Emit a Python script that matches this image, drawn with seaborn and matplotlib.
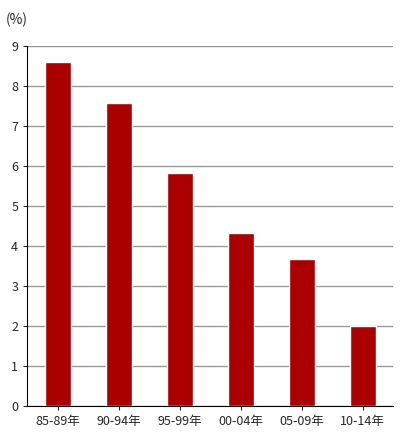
import matplotlib
matplotlib.use('Agg')
import matplotlib.pyplot as plt
import seaborn as sns
import pandas as pd

periods = ['85-89年', '90-94年', '95-99年', '00-04年', '05-09年', '10-14年']
rates = [8.6, 7.57, 5.82, 4.33, 3.68, 2.0]

sns.set_style('white')
plt.rcParams['font.family'] = ['Noto Sans CJK JP', 'DejaVu Sans']

df = pd.DataFrame({'period': periods, 'rate': rates})

fig = plt.figure(figsize=(4, 4.38), dpi=100)
ax = fig.add_axes([0.068, 0.073, 0.915, 0.822])
sns.barplot(data=df, x='period', y='rate', color='#AA0000', width=0.42,
            saturation=1, ax=ax, zorder=3)
ax.set_ylim(0, 9)
ax.set_yticks(range(10))
ax.yaxis.grid(True, color='#999999', linewidth=1, zorder=0)
ax.set_xlabel('')
ax.set_ylabel('')
for side in ['top', 'right']:
    ax.spines[side].set_visible(False)
for side in ['left', 'bottom']:
    ax.spines[side].set_color('black')
ax.tick_params(axis='both', labelsize=9, length=3, direction='out', left=True, bottom=True)
fig.text(0.015, 0.955, '(%)', fontsize=10, ha='left', va='center')
fig.savefig('out.png', dpi=100)
